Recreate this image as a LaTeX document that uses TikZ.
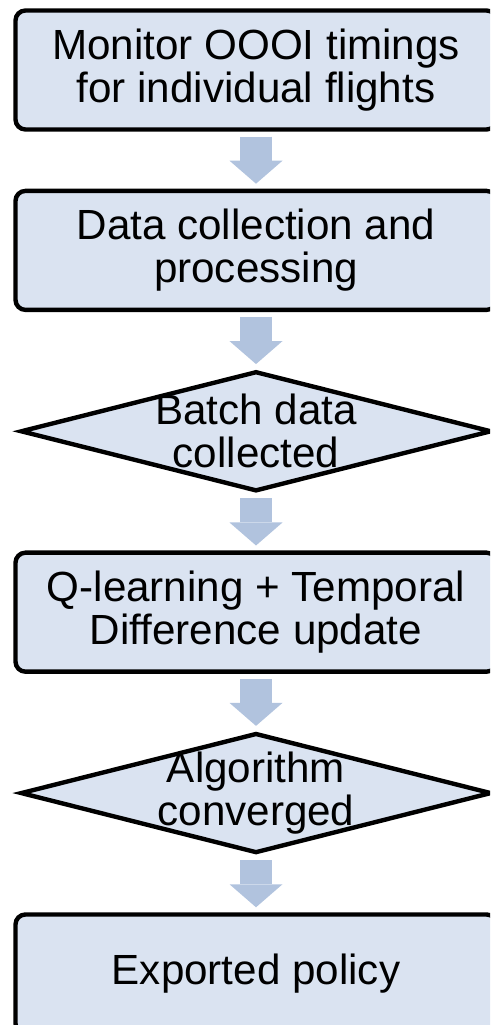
\documentclass[tikz,border=0pt]{standalone}
\usepackage{fontspec}
\setmainfont{Liberation Sans}
\usetikzlibrary{arrows.meta, positioning, shapes.geometric}
\definecolor{BoxFill}{HTML}{DAE3F1}
\definecolor{ArrowFill}{HTML}{B1C3DE}
\newcommand{\flowfont}{\fontsize{24}{24.5}\selectfont}

\begin{document}
\begin{tikzpicture}[
  node distance=1.14cm,
  stepbox/.style={draw=black, line width=2.5pt, fill=BoxFill, rounded corners=0.2cm,
    minimum width=9.62cm, minimum height=2.38cm, align=center, font=\flowfont},
  decision/.style={diamond, draw=black, line width=2.5pt, fill=BoxFill,
    minimum width=9.42cm, minimum height=2.4cm, inner sep=0pt},
  flow/.style={line width=0.64cm, ArrowFill,
    -{Triangle[width=1.06cm, length=0.46cm, line width=0pt]}}
]
  \useasboundingbox (0,0) rectangle (9.8,-20.5);
  \clip (0,0) rectangle (9.8,-20.5);

  \node[stepbox] (monitor) at (5.12,-1.4) {Monitor OOOI timings\\for individual flights};
  \node[stepbox, below=of monitor] (collect) {Data collection and\\processing};
  \node[decision, below=of collect,
    label={[align=center, font=\flowfont]center:Batch data\\collected}] (batch) {};
  \node[stepbox, below=of batch] (qlearn) {Q-learning + Temporal\\Difference update};
  \node[decision, below=of qlearn,
    label={[align=center, font=\flowfont]center:Algorithm\\converged}] (conv) {};
  \node[stepbox, below=of conv] (policy) {Exported policy};

  \draw[flow] ([yshift=-0.1cm]monitor.south) -- ([yshift=0.1cm]collect.north);
  \draw[flow] ([yshift=-0.1cm]collect.south) -- ([yshift=0.1cm]batch.north);
  \draw[flow] ([yshift=-0.1cm]batch.south) -- ([yshift=0.1cm]qlearn.north);
  \draw[flow] ([yshift=-0.1cm]qlearn.south) -- ([yshift=0.1cm]conv.north);
  \draw[flow] ([yshift=-0.1cm]conv.south) -- ([yshift=0.1cm]policy.north);
\end{tikzpicture}
\end{document}
